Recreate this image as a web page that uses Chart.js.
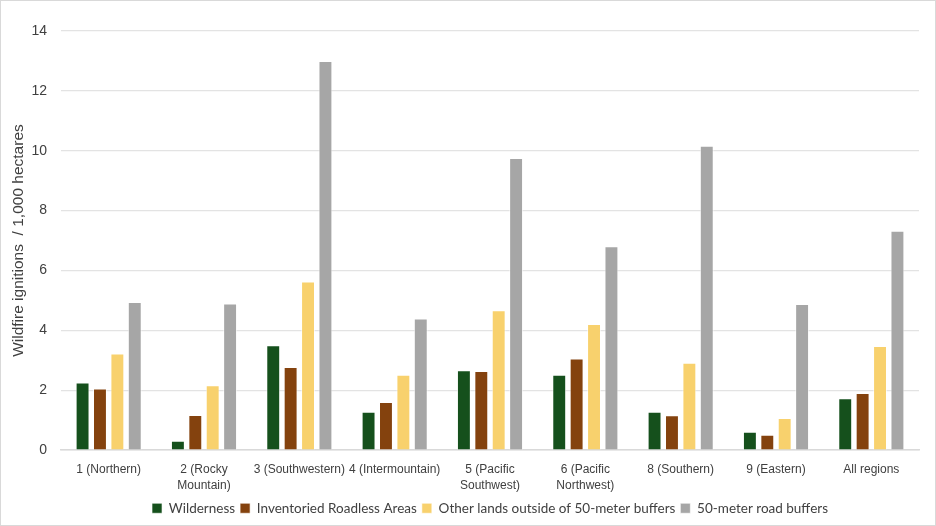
<!DOCTYPE html>
<html>
<head>
<meta charset="utf-8">
<script src="https://cdn.jsdelivr.net/npm/chart.js@4.4.1/dist/chart.umd.min.js"></script>
<style>
  html, body { margin: 0; padding: 0; background: #fff; }
  .chart-wrap { position: relative; width: 934px; height: 524px; border: 1px solid #d9d9d9; }
</style>
</head>
<body>
<div class="chart-wrap"><canvas id="chart"></canvas></div>
<script>
const regions = ['1 (Northern)', ['2 (Rocky', 'Mountain)'], '3 (Southwestern)', '4 (Intermountain)',
  ['5 (Pacific', 'Southwest)'], ['6 (Pacific', 'Northwest)'], '8 (Southern)', '9 (Eastern)', 'All regions'];

const wilderness = [2.26, 0.31, 3.50, 1.28, 2.67, 2.52, 1.28, 0.61, 1.73];
const roadless   = [2.06, 1.17, 2.78, 1.61, 2.64, 3.06, 1.16, 0.51, 1.91];
const otherLands = [3.23, 2.17, 5.63, 2.52, 4.67, 4.21, 2.92, 1.07, 3.48];
const roadBuffer = [4.95, 4.90, 13.00, 4.40, 9.76, 6.81, 10.17, 4.88, 7.33];

const yTicks = [0, 2, 4, 6, 8, 10, 12, 14];

const bar = (label, data, color) => ({
  label, data,
  backgroundColor: color,
  borderColor: 'rgba(255,255,255,0.6)',
  borderWidth: 1,
  categoryPercentage: 0.73,
  barPercentage: 0.8,
});

// center the legend under the plot area rather than the whole canvas
const legendUnderPlot = {
  id: 'legendUnderPlot',
  afterLayout(chart) {
    const l = chart.legend;
    const shift = (chart.chartArea.left + chart.chartArea.right) / 2 - (l.left + l.right) / 2;
    l.left += shift;
    l.right += shift;
  }
};

new Chart(document.getElementById('chart'), {
  type: 'bar',
  data: {
    labels: regions,
    datasets: [
      bar('Wilderness', wilderness, '#15501C'),
      bar('Inventoried Roadless Areas', roadless, '#84420E'),
      bar('Other lands outside of 50-meter buffers', otherLands, '#F8D16D'),
      bar('50-meter road buffers', roadBuffer, '#A6A6A6'),
    ]
  },
  plugins: [legendUnderPlot],
  options: {
    responsive: true,
    maintainAspectRatio: false,
    animation: false,
    layout: { padding: { top: 30, right: 16, left: 4, bottom: 0 } },
    plugins: {
      tooltip: { enabled: false },
      legend: {
        position: 'bottom',
        labels: {
          boxWidth: 10, boxHeight: 10, padding: 5,
          color: '#404040',
          font: { family: 'Lato', size: 13.5 }
        }
      }
    },
    scales: {
      x: {
        grid: { display: false },
        border: { color: '#d9d9d9', width: 1.5 },
        ticks: { color: '#404040', font: { family: 'Liberation Sans', size: 12, lineHeight: 1.35 }, maxRotation: 0, autoSkip: false }
      },
      y: {
        min: 0, max: 14,
        afterBuildTicks: axis => { axis.ticks = yTicks.map(v => ({ value: v })); },
        afterFit: axis => { axis.width = 56; },
        grid: { color: '#e3e3e3', lineWidth: 1.3, drawTicks: false },
        border: { display: false },
        ticks: { color: '#404040', padding: 14, font: { family: 'Liberation Sans', size: 14 } },
        title: { display: true, text: 'Wildfire ignitions  / 1,000 hectares', color: '#404040',
                 font: { family: 'Liberation Sans', size: 15.5 }, padding: { bottom: 2 } }
      }
    }
  }
});
</script>
</body>
</html>
